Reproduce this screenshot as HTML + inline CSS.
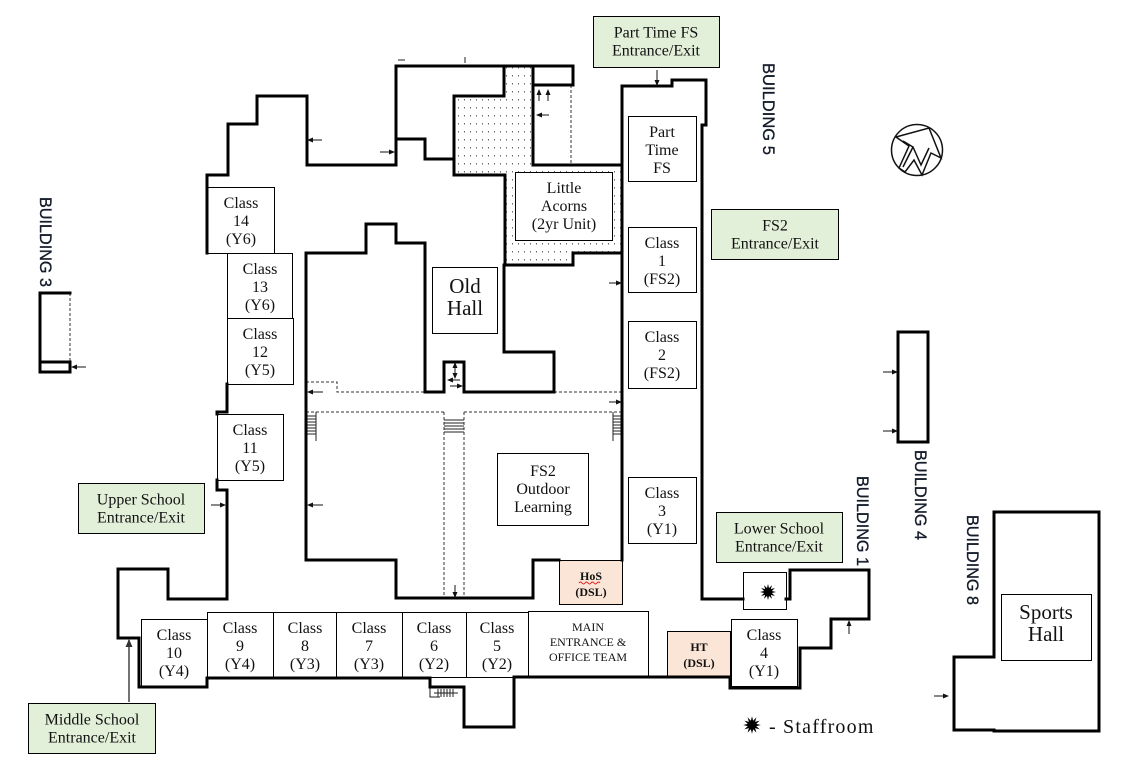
<!DOCTYPE html>
<html>
<head>
<meta charset="utf-8">
<style>
  html, body { margin: 0; padding: 0; background: #ffffff; }
  body { width: 1126px; height: 765px; overflow: hidden; }
  svg { display: block; }
  .t { font-family: "Liberation Serif", serif; font-size: 16px; fill: #111; text-anchor: middle; }
  .b { font-family: "Liberation Sans", sans-serif; font-size: 17px; fill: #151c2a; stroke: #151c2a; stroke-width: 0.35; }
</style>
</head>
<body>
<svg width="1126" height="765" viewBox="0 0 1126 765" xmlns="http://www.w3.org/2000/svg">
  <defs>
    <pattern id="dots" width="6" height="8" patternUnits="userSpaceOnUse">
      <rect x="2" y="3" width="1" height="1.5" fill="#666"/>
    </pattern>
    <marker id="ah" markerWidth="6" markerHeight="6" refX="5" refY="3" orient="auto" markerUnits="userSpaceOnUse">
      <path d="M0,0.5 L6,3 L0,5.5 z" fill="#111"/>
    </marker>
    <marker id="ah2" markerWidth="8" markerHeight="8" refX="7" refY="4" orient="auto" markerUnits="userSpaceOnUse">
      <path d="M0,0.5 L8,4 L0,7.5 z" fill="#333"/>
    </marker>
  </defs>

  <!-- dotted region -->
  <path d="M504,66 H533 V165 H622 V253 H573 V265 H505 V175 H455 V96 H504 Z" fill="url(#dots)"/>

  <!-- thin dashed corridor lines -->
  <g stroke="#333" stroke-width="1" fill="none" stroke-dasharray="3 2">
    <path d="M306,382 H337 V392 H425"/>
    <path d="M554,392 H622"/>
    <path d="M306,412 H444"/>
    <path d="M464,412 H622"/>
    <path d="M444,412 V598"/>
    <path d="M464,412 V598"/>
    <path d="M571,85 V165"/>
    <path d="M70,293 V362"/>
  </g>

  <!-- stairs -->
  <g stroke="#222" stroke-width="1" fill="none">
    <path d="M307,416 H316 M307,419 H316 M307,422 H316 M307,425 H316 M307,428 H316 M307,431 H316 M307,434 H316"/>
    <path d="M316,412 V441"/>
    <path d="M444,420 H464 M444,423 H464 M444,426 H464 M444,429 H464 M444,432 H464"/>
    <path d="M613,416 H622 M613,419 H622 M613,422 H622 M613,425 H622 M613,428 H622 M613,431 H622 M613,434 H622"/>
    <path d="M613,412 V441"/>
    <path d="M434,693 H458"/>
    <path d="M438,689 V697 M441,689 V697 M444,689 V697 M447,689 V697 M450,689 V697 M453,689 V697"/>
    <path d="M430,687 V697 H440"/>
    <path d="M398,60 H405"/>
    <path d="M465,57 V63"/>
  </g>

  <!-- Boxes -->
  <g stroke="#000" stroke-width="1">
    <rect x="593.5" y="16.5" width="126" height="51" fill="#e2efd9"/>
    <rect x="711.5" y="209.5" width="127" height="50" fill="#e2efd9"/>
    <rect x="716.5" y="512.5" width="126" height="50" fill="#e2efd9"/>
    <rect x="78.5" y="483.5" width="126" height="50" fill="#e2efd9"/>
    <rect x="28.5" y="703.5" width="127" height="50" fill="#e2efd9"/>

    <rect x="628.5" y="116.5" width="68" height="65" fill="#fff"/>
    <rect x="515.5" y="172.5" width="97" height="68" fill="#fff"/>
    <rect x="628.5" y="227.5" width="68" height="65" fill="#fff"/>
    <rect x="628.5" y="321.5" width="68" height="67" fill="#fff"/>
    <rect x="628.5" y="477.5" width="68" height="66" fill="#fff"/>

    <rect x="207.5" y="187.5" width="67" height="66" fill="#fff"/>
    <rect x="227.5" y="253.5" width="65" height="65" fill="#fff"/>
    <rect x="227.5" y="318.5" width="66" height="66" fill="#fff"/>
    <rect x="217.5" y="414.5" width="66" height="66" fill="#fff"/>

    <rect x="432.5" y="267.5" width="65" height="66" fill="#fff"/>
    <rect x="497.5" y="453.5" width="91" height="72" fill="#fff"/>
    <rect x="559.5" y="560.5" width="63" height="44" fill="#fbe5d6"/>

    <rect x="141.5" y="619.5" width="66" height="67" fill="#fff"/>
    <rect x="207.5" y="612.5" width="66" height="65" fill="#fff"/>
    <rect x="273.5" y="612.5" width="63" height="65" fill="#fff"/>
    <rect x="336.5" y="612.5" width="66" height="65" fill="#fff"/>
    <rect x="402.5" y="612.5" width="64" height="65" fill="#fff"/>
    <rect x="466.5" y="612.5" width="62" height="65" fill="#fff"/>
    <rect x="528.5" y="611.5" width="120" height="66" fill="#fff"/>
    <rect x="667.5" y="631.5" width="63" height="45" fill="#fbe5d6"/>
    <rect x="731.5" y="619.5" width="66" height="67" fill="#fff"/>
    <rect x="743.5" y="572.5" width="43" height="37" fill="#fff"/>

    <rect x="1001.5" y="594.5" width="90" height="66" fill="#fff"/>
  </g>

  <!-- Thick walls -->
  <g stroke="#000" stroke-width="3" fill="none" stroke-linejoin="miter" stroke-linecap="square">
    <path d="M207,253 V175 H228 V124 H257 V96 H307 V165 H396 V66 H573 V85 H533"/>
    <path d="M533,66 V165 H622"/>
    <path d="M622,560 V86 H672 V80 H706 V125 H702 V599 H743"/>
    <path d="M786,599 H790 V570 H869 V619 H831 V648 H800 V688 H730 V677 H514 V727 H464 V687 H430 V678 H207 V687 H139 V638 H118 V569 H168 V599 H227 V490 H217 V480"/>
    <path d="M217,414 V412 H227 V384"/>
    <path d="M504,265 V352 H554 V392 H464 V362 H444 V392 H425 V243 H396 V224 H366 V253 H306 V560 H396 V598 H533 V560 H559"/>
    <path d="M504,66 V96 H454 V175 H505 V265 H573 V253 H622"/>
    <path d="M396,139 H425 V159 H454"/>
    <path d="M70,293 H40 V372 H70 V362 H40"/>
    <rect x="898" y="332" width="30" height="110"/>
    <path d="M994,731 H1099 V512 H994 V657 H954 V730 H994"/>
  </g>

  <!-- Arrows -->
  <g stroke="#111" stroke-width="1" fill="none" marker-end="url(#ah)">
    <path d="M322,140 H308"/>
    <path d="M380,152 H394"/>
    <path d="M86,367 H72"/>
    <path d="M539,101 V90"/>
    <path d="M548,101 V90"/>
    <path d="M549,115 H537"/>
    <path d="M657,70 V85"/>
    <path d="M323,392 H308"/>
    <path d="M609,283 H621"/>
    <path d="M609,402 H621"/>
    <path d="M323,505 H308"/>
    <path d="M211,505 H225"/>
    <path d="M455,370 V363"/>
    <path d="M455,370 V378"/>
    <path d="M460,380 H448"/>
    <path d="M450,386 H462"/>
    <path d="M455,585 V597"/>
    <path d="M883,372 H897"/>
    <path d="M883,431 H897"/>
    <path d="M849,634 V621"/>
    <path d="M934,696 H948"/>
  </g>
  <path d="M129,702 V640" stroke="#444" stroke-width="1.5" fill="none" marker-end="url(#ah2)"/>

  <!-- Compass -->
  <g stroke="#111" stroke-width="1.5" fill="none" stroke-linejoin="miter">
    <circle cx="917" cy="150" r="25.5"/>
    <path d="M896,137 L929,128 L941,158 L931,153 L922,175 L914,160 L905,172 L899,168 L909,146 Z"/>
    <path d="M903,141 L913,147 L903,167 M913,147 L921,165 L929,148"/>
  </g>

  <!-- Staffroom stars -->
  <polygon transform="translate(768,592)" fill="#000" points="0,-8 1.04,-3.86 4,-6.93 2.83,-2.83 6.93,-4 3.86,-1.04 8,0 3.86,1.04 6.93,4 2.83,2.83 4,6.93 1.04,3.86 0,8 -1.04,3.86 -4,6.93 -2.83,2.83 -6.93,4 -3.86,1.04 -8,0 -3.86,-1.04 -6.93,-4 -2.83,-2.83 -4,-6.93 -1.04,-3.86"/>
  <polygon transform="translate(752,725) scale(1.1)" fill="#000" points="0,-8 1.04,-3.86 4,-6.93 2.83,-2.83 6.93,-4 3.86,-1.04 8,0 3.86,1.04 6.93,4 2.83,2.83 4,6.93 1.04,3.86 0,8 -1.04,3.86 -4,6.93 -2.83,2.83 -6.93,4 -3.86,1.04 -8,0 -3.86,-1.04 -6.93,-4 -2.83,-2.83 -4,-6.93 -1.04,-3.86"/>
  <text x="769" y="733" font-family="Liberation Serif, serif" font-size="20" fill="#111" letter-spacing="1.2">- Staffroom</text>

  <!-- Building labels -->
  <text class="b" transform="translate(763,63) rotate(90)" textLength="92" lengthAdjust="spacingAndGlyphs">BUILDING 5</text>
  <text class="b" transform="translate(40,197) rotate(90)" textLength="90" lengthAdjust="spacingAndGlyphs">BUILDING 3</text>
  <text class="b" transform="translate(915,450) rotate(90)" textLength="90" lengthAdjust="spacingAndGlyphs">BUILDING 4</text>
  <text class="b" transform="translate(857,476) rotate(90)" textLength="90" lengthAdjust="spacingAndGlyphs">BUILDING 1</text>
  <text class="b" transform="translate(967,515) rotate(90)" textLength="90" lengthAdjust="spacingAndGlyphs">BUILDING 8</text>

  <!-- Entrance labels -->
  <text class="t" x="656" y="37.5">Part Time FS</text>
  <text class="t" x="656" y="55.5">Entrance/Exit</text>
  <text class="t" x="775" y="230.5">FS2</text>
  <text class="t" x="775" y="248.5">Entrance/Exit</text>
  <text class="t" x="779" y="533.5">Lower School</text>
  <text class="t" x="779" y="551.5">Entrance/Exit</text>
  <text class="t" x="141" y="504.5">Upper School</text>
  <text class="t" x="141" y="522.5">Entrance/Exit</text>
  <text class="t" x="92" y="724.5">Middle School</text>
  <text class="t" x="92" y="742.5">Entrance/Exit</text>

  <!-- Right column rooms -->
  <text class="t" x="662" y="137">Part</text>
  <text class="t" x="662" y="155">Time</text>
  <text class="t" x="662" y="173">FS</text>
  <text class="t" x="564" y="193">Little</text>
  <text class="t" x="564" y="211">Acorns</text>
  <text class="t" x="564" y="229">(2yr Unit)</text>
  <text class="t" x="662" y="248">Class</text>
  <text class="t" x="662" y="266">1</text>
  <text class="t" x="662" y="284">(FS2)</text>
  <text class="t" x="662" y="342">Class</text>
  <text class="t" x="662" y="360">2</text>
  <text class="t" x="662" y="378">(FS2)</text>
  <text class="t" x="662" y="498">Class</text>
  <text class="t" x="662" y="516">3</text>
  <text class="t" x="662" y="534">(Y1)</text>

  <!-- Left column rooms -->
  <text class="t" x="241" y="208">Class</text>
  <text class="t" x="241" y="226">14</text>
  <text class="t" x="241" y="244">(Y6)</text>
  <text class="t" x="260" y="274">Class</text>
  <text class="t" x="260" y="292">13</text>
  <text class="t" x="260" y="310">(Y6)</text>
  <text class="t" x="260" y="339">Class</text>
  <text class="t" x="260" y="357">12</text>
  <text class="t" x="260" y="375">(Y5)</text>
  <text class="t" x="250" y="435">Class</text>
  <text class="t" x="250" y="453">11</text>
  <text class="t" x="250" y="471">(Y5)</text>

  <!-- Centre -->
  <text class="t" x="465" y="293" style="font-size:21px">Old</text>
  <text class="t" x="465" y="315" style="font-size:21px">Hall</text>
  <text class="t" x="543" y="476">FS2</text>
  <text class="t" x="543" y="494">Outdoor</text>
  <text class="t" x="543" y="512">Learning</text>
  <text class="t" x="591" y="580" style="font-size:12px;font-weight:bold">HoS</text>
  <text class="t" x="591" y="596" style="font-size:12px;font-weight:bold">(DSL)</text>
  <path d="M579,583 q1.5,-2 3,0 t3,0 t3,0 t3,0 t3,0 t3,0 t3,0" stroke="#e02020" stroke-width="1" fill="none"/>

  <!-- Bottom row -->
  <text class="t" x="174" y="640">Class</text>
  <text class="t" x="174" y="658">10</text>
  <text class="t" x="174" y="676">(Y4)</text>
  <text class="t" x="240" y="633">Class</text>
  <text class="t" x="240" y="651">9</text>
  <text class="t" x="240" y="669">(Y4)</text>
  <text class="t" x="305" y="633">Class</text>
  <text class="t" x="305" y="651">8</text>
  <text class="t" x="305" y="669">(Y3)</text>
  <text class="t" x="369" y="633">Class</text>
  <text class="t" x="369" y="651">7</text>
  <text class="t" x="369" y="669">(Y3)</text>
  <text class="t" x="434" y="633">Class</text>
  <text class="t" x="434" y="651">6</text>
  <text class="t" x="434" y="669">(Y2)</text>
  <text class="t" x="497" y="633">Class</text>
  <text class="t" x="497" y="651">5</text>
  <text class="t" x="497" y="669">(Y2)</text>
  <text class="t" x="588" y="631" style="font-size:12px">MAIN</text>
  <text class="t" x="588" y="646" style="font-size:12px">ENTRANCE &amp;</text>
  <text class="t" x="588" y="661" style="font-size:12px">OFFICE TEAM</text>
  <text class="t" x="699" y="651" style="font-size:12px;font-weight:bold">HT</text>
  <text class="t" x="699" y="667" style="font-size:12px;font-weight:bold">(DSL)</text>
  <text class="t" x="764" y="640">Class</text>
  <text class="t" x="764" y="658">4</text>
  <text class="t" x="764" y="676">(Y1)</text>

  <!-- Sports hall -->
  <text class="t" x="1046" y="619" style="font-size:21px">Sports</text>
  <text class="t" x="1046" y="641" style="font-size:21px">Hall</text>
</svg>
</body>
</html>
